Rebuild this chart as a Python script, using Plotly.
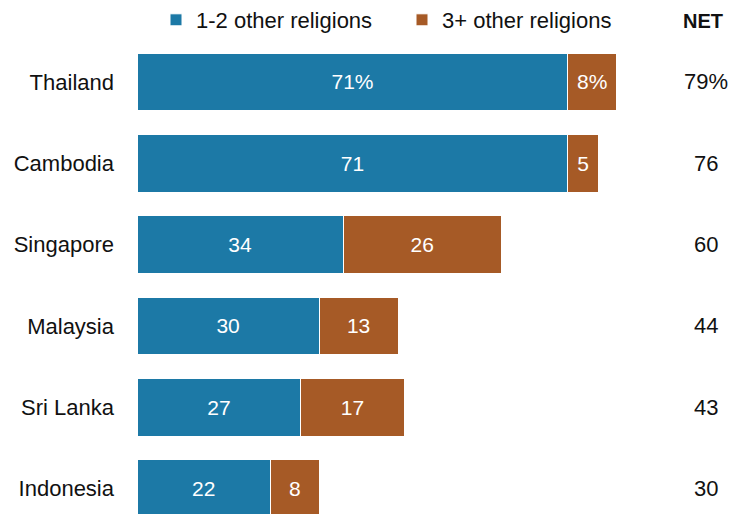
import plotly.graph_objects as go

countries = ["Thailand", "Cambodia", "Singapore", "Malaysia", "Sri Lanka", "Indonesia"]
one_two = [71, 71, 34, 30, 27, 22]
three_plus = [8, 5, 26, 13, 17, 8]
net = [79, 76, 60, 44, 43, 30]

BLUE = "#1C79A6"
BROWN = "#A65A26"
FONT = "Liberation Sans"
FS = 22

W, H = 734, 514
ML, MT = 137, 40
PX_PER_UNIT = 6.07
plot_w = W - ML
xmax = plot_w / PX_PER_UNIT


def labels(vals):
    return [f"{v}%" if i == 0 else str(v) for i, v in enumerate(vals)]


fig = go.Figure()
fig.add_trace(go.Bar(
    y=countries, x=one_two, orientation="h", name="1-2 other religions",
    marker=dict(color=BLUE, line=dict(color="white", width=1)),
    text=labels(one_two), textposition="inside", insidetextanchor="middle",
    textfont=dict(color="white", size=FS - 1, family=FONT), hoverinfo="skip",
))
fig.add_trace(go.Bar(
    y=countries, x=three_plus, orientation="h", name="3+ other religions",
    marker=dict(color=BROWN, line=dict(color="white", width=1)),
    text=labels(three_plus), textposition="inside", insidetextanchor="middle",
    textfont=dict(color="white", size=FS - 1, family=FONT), hoverinfo="skip",
))

net_x = (706 - ML) / plot_w
for i, (c, v) in enumerate(zip(countries, net)):
    fig.add_annotation(x=net_x, xref="paper", y=c, yref="y",
                       text=f"{v}%" if i == 0 else str(v), showarrow=False,
                       xanchor="center", yanchor="middle",
                       font=dict(size=FS, color="#111111", family=FONT))
fig.add_annotation(x=(703 - ML) / plot_w, xref="paper", y=1 + 20 / (H - MT), yref="paper",
                   text="<b>NET</b>", showarrow=False, xanchor="center", yanchor="middle",
                   font=dict(size=FS - 2, color="#111111", family=FONT))

spacing = 81.5
top_idx = -(81 - MT) / spacing
bot_idx = (H - 81) / spacing

fig.update_layout(
    width=W, height=H,
    margin=dict(l=ML, r=0, t=MT, b=0, pad=0),
    barmode="stack", bargap=0.29,
    plot_bgcolor="white", paper_bgcolor="white",
    font=dict(family=FONT, size=FS, color="#111111"),
    showlegend=True,
    legend=dict(orientation="h", xref="container", yref="container",
                x=156 / W, xanchor="left", y=1 - 20 / H, yanchor="middle",
                entrywidth=201, entrywidthmode="pixels",
                font=dict(size=FS, family=FONT, color="#111111"),
                bgcolor="rgba(0,0,0,0)", borderwidth=0,
                traceorder="normal", tracegroupgap=0),
    xaxis=dict(range=[0, xmax], visible=False, fixedrange=True),
    yaxis=dict(type="category", categoryorder="array", categoryarray=countries,
               range=[bot_idx, top_idx], showgrid=False, zeroline=False,
               showline=False, ticks="", ticklabelstandoff=22, fixedrange=True,
               tickfont=dict(size=FS, family=FONT, color="#111111")),
)

fig.write_html("out.html", config={"displayModeBar": False, "staticPlot": True},
               post_script="document.body.style.margin='0';document.body.style.overflow='hidden';")
